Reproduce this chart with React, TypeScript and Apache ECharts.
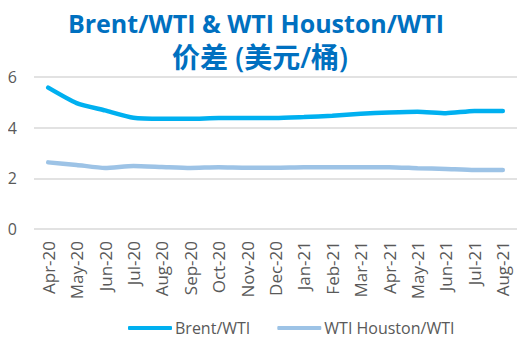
import React, { useEffect, useRef } from "react";
import * as echarts from "echarts";

const categories = ["Apr-20","May-20","Jun-20","Jul-20","Aug-20","Sep-20","Oct-20","Nov-20","Dec-20","Jan-21","Feb-21","Mar-21","Apr-21","May-21","Jun-21","Jul-21","Aug-21"];
const brentWti = [5.58,4.97,4.68,4.39,4.35,4.35,4.38,4.38,4.38,4.42,4.47,4.55,4.6,4.63,4.57,4.66,4.66];
const houstonWti = [2.63,2.53,2.41,2.49,2.45,2.41,2.44,2.42,2.42,2.44,2.44,2.44,2.44,2.4,2.37,2.33,2.33];
const yTicks = [0, 2, 4, 6];
const titleLines = ["Brent/WTI & WTI Houston/WTI", "价差 (美元/桶)"];
const seriesNames = ["Brent/WTI", "WTI Houston/WTI"];

export default function App() {
  const ref = useRef<HTMLDivElement>(null);
  useEffect(() => {
    const chart = echarts.init(ref.current!, null, { renderer: "svg" });
    const font = "'Open Sans', 'Noto Sans CJK SC', sans-serif";
    const titleStyle = {
      fill: "#0070C0",
      fontSize: 25,
      fontWeight: "bold",
      fontFamily: font,
      textAlign: "center",
      textVerticalAlign: "middle",
    };
    chart.setOption({
      animation: false,
      graphic: [
        { type: "text", x: 256, y: 23, style: { ...titleStyle, text: titleLines[0] } },
        { type: "text", x: 260, y: 57, style: { ...titleStyle, fontSize: 28, fontWeight: 600, text: titleLines[1] } },
      ],
      legend: {
        top: 315,
        left: 123,
        itemWidth: 44,
        itemHeight: 4,
        itemGap: 27,
        icon: "roundRect",
        textStyle: { color: "#595959", fontSize: 16, fontFamily: font, padding: [0, 0, 0, -2] },
        data: seriesNames,
      },
      grid: { left: 34, right: 15, top: 77, bottom: 125 },
      xAxis: {
        type: "category",
        data: categories,
        boundaryGap: true,
        axisLine: { show: false },
        axisTick: { show: false },
        axisLabel: { rotate: 90, color: "#595959", fontSize: 17, fontFamily: font, margin: 12 },
      },
      yAxis: {
        type: "value",
        min: yTicks[0],
        max: yTicks[yTicks.length - 1],
        interval: 2,
        axisLine: { show: false },
        axisTick: { show: false },
        splitLine: { lineStyle: { color: "#D9D9D9", width: 1.5 } },
        axisLabel: { color: "#595959", fontSize: 16, fontFamily: font, margin: 17 },
      },
      series: [
        {
          name: seriesNames[0],
          type: "line",
          data: brentWti,
          symbol: "none",
          smooth: 0.2,
          lineStyle: { color: "#00B0F0", width: 4.5, cap: "round" },
          itemStyle: { color: "#00B0F0" },
        },
        {
          name: seriesNames[1],
          type: "line",
          data: houstonWti,
          symbol: "none",
          smooth: 0.2,
          lineStyle: { color: "#9DC3E6", width: 4.5, cap: "round" },
          itemStyle: { color: "#9DC3E6" },
        },
      ],
    });
    return () => chart.dispose();
  }, []);
  return <div ref={ref} style={{ width: 532, height: 354, marginLeft: -8, marginTop: -8 }} />;
}
